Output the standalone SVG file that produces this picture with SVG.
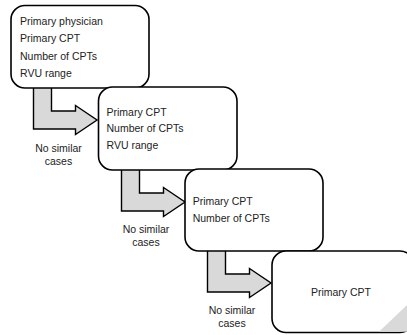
<svg xmlns="http://www.w3.org/2000/svg" width="407" height="335" viewBox="0 0 407 335">
<style>
.box{fill:#fff;stroke:#000;stroke-width:1.6}
.arr{fill:#d9d9d9;stroke:#000;stroke-width:1.4;stroke-linejoin:miter}
text{font-family:"Liberation Sans",Arial,sans-serif;font-size:10.5px;fill:#222}
.lbl{text-anchor:middle}
</style>
<g id="connectors">
<path class="arr" d="M33.5,86 L51.5,86 L51.5,111 L75.5,111 L75.5,105.5 L97,120 L75.5,134.5 L75.5,129 L33.5,129 Z"/>
<path class="arr" d="M121.5,168 L139.5,168 L139.5,193 L163.5,193 L163.5,187.5 L185,202 L163.5,216.5 L163.5,211 L121.5,211 Z"/>
<path class="arr" d="M207.5,249 L225.5,249 L225.5,274 L249.5,274 L249.5,268.5 L271,283 L249.5,297.5 L249.5,292 L207.5,292 Z"/>
<text class="lbl" x="58.5" y="152">No similar</text>
<text class="lbl" x="58.5" y="164.5">cases</text>
<text class="lbl" x="146" y="233">No similar</text>
<text class="lbl" x="146" y="245.5">cases</text>
<text class="lbl" x="232" y="314">No similar</text>
<text class="lbl" x="232" y="326.5">cases</text>
</g>
<g id="node1">
<rect class="box" x="11" y="5.5" width="138" height="82.5" rx="14"/>
<text x="20" y="25">Primary physician</text>
<text x="20" y="42.3">Primary CPT</text>
<text x="20" y="59.6">Number of CPTs</text>
<text x="20" y="76.9">RVU range</text>
</g>
<g id="node2">
<rect class="box" x="98.5" y="87" width="138.5" height="83" rx="14"/>
<text x="106.5" y="115.5">Primary CPT</text>
<text x="106.5" y="132.2">Number of CPTs</text>
<text x="106.5" y="148.9">RVU range</text>
</g>
<g id="node3">
<rect class="box" x="185" y="169" width="138" height="82" rx="14"/>
<text x="192.7" y="205.3">Primary CPT</text>
<text x="192.7" y="222">Number of CPTs</text>
</g>
<g id="node4">
<rect class="box" x="272" y="251" width="142" height="81.5" rx="14"/>
<polygon points="379,331.7 407,305 407,331.7" fill="#d9d9d9"/>
<text class="lbl" x="341" y="295.5">Primary CPT</text>
</g>
</svg>
